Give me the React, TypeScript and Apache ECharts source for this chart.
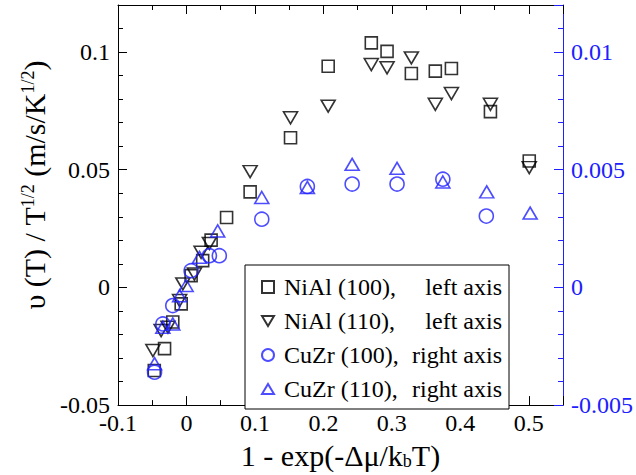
import React, { useEffect, useRef, useState } from "react";
import * as echarts from "echarts";

// NiAl (100) — left axis
const niAl100X = [-0.047, -0.032, -0.02, -0.0077, 0.0068, 0.0237, 0.036, 0.0586, 0.093, 0.152, 0.207, 0.270, 0.293, 0.3285, 0.3635, 0.387, 0.444, 0.5007];
const niAl100Y = [-0.0353, -0.026, -0.0147, -0.007, 0.005, 0.0114, 0.0201, 0.0297, 0.0406, 0.0636, 0.094, 0.1039, 0.1003, 0.0909, 0.0919, 0.093, 0.0747, 0.0537];
// NiAl (110) — left axis
const niAl110X = [-0.049, -0.037, -0.027, -0.01, -0.0053, 0.0116, 0.0214, 0.0335, 0.093, 0.152, 0.207, 0.270, 0.293, 0.3285, 0.3635, 0.387, 0.444, 0.5007];
const niAl110Y = [-0.0268, -0.0183, -0.0169, -0.0056, 0.0015, 0.0057, 0.0149, 0.0187, 0.0492, 0.0721, 0.077, 0.0947, 0.0933, 0.0975, 0.0778, 0.0824, 0.0778, 0.0509];
// CuZr (100) — right axis
const cuZr100X = [-0.0466, -0.0345, -0.02, 0.0068, 0.0335, 0.048, 0.110, 0.1766, 0.242, 0.3076, 0.3745, 0.438];
const cuZr100Y = [-0.0036, -0.00155, -0.00077, 0.00071, 0.00135, 0.00135, 0.0029, 0.00429, 0.00439, 0.00439, 0.0046, 0.00303];
// CuZr (110) — right axis
const cuZr110X = [-0.0466, -0.0345, -0.02, -0.01, -0.0005, 0.019, 0.0456, 0.110, 0.1766, 0.242, 0.3076, 0.3745, 0.4386, 0.502];
const cuZr110Y = [-0.00324, -0.00169, -0.00155, -0.00035, 0.00008, 0.00128, 0.0024, 0.00382, 0.00425, 0.00523, 0.00506, 0.00448, 0.00406, 0.00316];

const seriesNames = ["NiAl (100)", "NiAl (110)", "CuZr (100)", "CuZr (110)"];
const seriesSides = ["left", "left", "right", "right"];

const BLUE = "#2020ff";
const FONT = "Liberation Serif";

const zip = (xs: number[], ys: number[]) => xs.map((x, i) => [x, ys[i]]);
const fmt = (max: number) => (v: number) => (Math.abs(v - max) < 1e-9 ? "" : String(+v.toFixed(4)));

export default function App() {
  const ref = useRef<HTMLDivElement>(null);
  const [errs, setErrs] = useState<string[]>([]);
  useEffect(() => {
    if (!ref.current) return;
    const chart = echarts.init(ref.current, null, { renderer: "svg" });
    const found: string[] = [];
    const tick = (c: string) => ({ show: true, inside: true, length: 9, lineStyle: { color: c, width: 1 } });
    const minor = (c: string, n: number) => ({ show: true, splitNumber: n, length: 5, lineStyle: { color: c, width: 1 } });
    const line = (c: string) => ({ show: true, onZero: false, lineStyle: { color: c, width: 1 } });
    const hollow = (c: string) => ({ color: "rgba(0,0,0,0)", borderColor: c, borderWidth: 1.6 });
    const step = (label: string, opt: any) => {
      try { chart.setOption(opt); } catch (e: any) { found.push(label + ": " + String(e && e.message)); }
    };
    step("base", {
      animation: false,
      grid: { left: 118, right: 73, top: 5, bottom: 69 },
      xAxis: [
        {
          type: "value", position: "bottom", min: -0.1, max: 0.55, interval: 0.1,
          axisLine: line("#000"), splitLine: { show: false },
          axisTick: tick("#000"), minorTick: minor("#000", 2),
          axisLabel: { fontFamily: FONT, fontSize: 24, color: "#000", margin: 6, formatter: fmt(0.55) },
        },
        {
          type: "value", position: "top", min: -0.1, max: 0.55, interval: 0.1,
          axisLine: line("#000"), splitLine: { show: false },
          axisTick: tick("#000"), minorTick: minor("#000", 2),
          axisLabel: { show: false },
        },
      ],
      yAxis: [
        {
          type: "value", position: "left", min: -0.05, max: 0.12, interval: 0.05,
          axisLine: line("#000"), splitLine: { show: false },
          axisTick: tick("#000"), minorTick: minor("#000", 5),
          axisLabel: { fontFamily: FONT, fontSize: 24, color: "#000", margin: 8, formatter: fmt(0.12) },
        },
        {
          type: "value", position: "right", min: -0.005, max: 0.012, interval: 0.005,
          axisLine: line(BLUE), splitLine: { show: false },
          axisTick: tick(BLUE), minorTick: minor(BLUE, 5),
          axisLabel: { fontFamily: FONT, fontSize: 24, color: BLUE, margin: 8, formatter: fmt(0.012) },
        },
      ],
      series: [
        {
          name: seriesNames[0], type: "scatter", xAxisIndex: 0, yAxisIndex: 0,
          symbol: "rect", symbolSize: 12,
          itemStyle: hollow("#000"), data: zip(niAl100X, niAl100Y),
        },
        {
          name: seriesNames[1], type: "scatter", xAxisIndex: 0, yAxisIndex: 0,
          symbol: "path://M0,0L20,0L10,17Z", symbolSize: [14, 12],
          itemStyle: hollow("#000"), data: zip(niAl110X, niAl110Y),
        },
        {
          name: seriesNames[2], type: "scatter", xAxisIndex: 0, yAxisIndex: 1,
          symbol: "circle", symbolSize: 14,
          itemStyle: hollow(BLUE), data: zip(cuZr100X, cuZr100Y),
        },
        {
          name: seriesNames[3], type: "scatter", xAxisIndex: 0, yAxisIndex: 1,
          symbol: "path://M10,0L20,17L0,17Z", symbolSize: [14, 12],
          itemStyle: hollow(BLUE), data: zip(cuZr110X, cuZr110Y),
        },
      ],
    });
    step("names", {
      xAxis: [{
        name: "1 - exp(-Δμ/k{sub|b}T)", nameLocation: "middle", nameGap: 30,
        nameTextStyle: {
          fontFamily: FONT, fontSize: 30, color: "#000",
          rich: { sub: { fontFamily: FONT, fontSize: 18, verticalAlign: "bottom" } },
        },
      }, {}],
      yAxis: [{
        name: "υ (T) / T{sup|1/2} (m/s/K{sup|1/2})", nameLocation: "middle", nameGap: 68, nameRotate: 90,
        nameTextStyle: {
          fontFamily: FONT, fontSize: 30, color: "#000", padding: [0, 0, 0, 40],
          rich: { sup: { fontFamily: FONT, fontSize: 18, verticalAlign: "top" } },
        },
      }, {}],
    });
    step("legend", {
      legend: {
        left: 245, top: 265, orient: "vertical",
        backgroundColor: "#fff", borderColor: "#000", borderWidth: 1,
        padding: [10, 7, 8, 16], itemGap: 10, itemWidth: 12, itemHeight: 12,
        data: seriesNames,
        formatter: (name: string) => {
          const i = seriesNames.indexOf(name);
          return `{a|${name},}{b|${seriesSides[i]} axis}`;
        },
        textStyle: {
          fontFamily: FONT, fontSize: 24, color: "#000",
          rich: {
            a: { fontFamily: FONT, fontSize: 24, width: 118, padding: [0, 0, 0, 5] },
            b: { fontFamily: FONT, fontSize: 24, width: 100, align: "right" },
          },
        },
      },
    });
    if (found.length) setErrs(found);
    return () => chart.dispose();
  }, []);
  return (
    <div style={{ position: "absolute", left: 0, top: 0, width: 636, height: 475 }}>
      <div ref={ref} style={{ width: 636, height: 475 }} />
      {errs.length > 0 && (
        <div style={{ position: "absolute", left: 130, top: 10, width: 400, fontSize: 12, color: "red", background: "#ffe" }}>
          {errs.join(" | ")}
        </div>
      )}
    </div>
  );
}
